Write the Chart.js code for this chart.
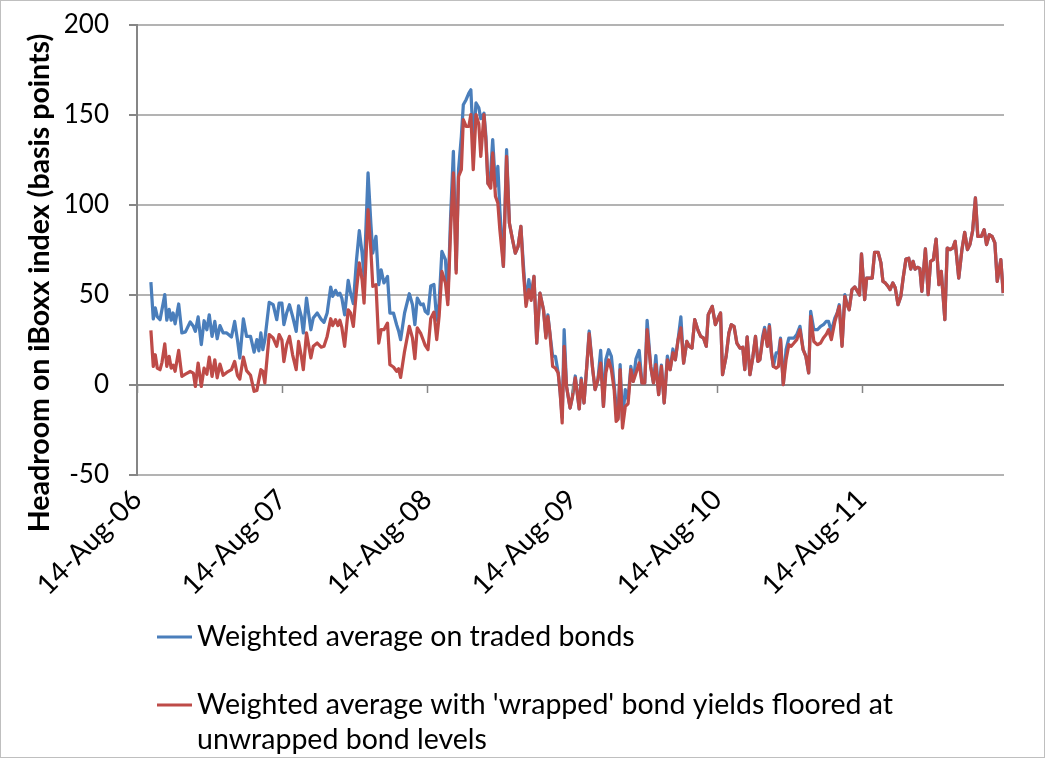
<!DOCTYPE html>
<html>
<head>
<meta charset="utf-8">
<script src="https://cdn.jsdelivr.net/npm/chart.js@4/dist/chart.umd.min.js"></script>
<style>
  html, body { margin: 0; padding: 0; background: #ffffff; }
  canvas { display: block; }
</style>
</head>
<body>
<canvas id="chart" width="1046" height="760"></canvas>
<script>
// Weekly observations, x = days since 14 Aug 2006
const weekDays = [
  35, 41, 46, 51, 58, 63, 70, 75, 81, 86, 91, 96, 105, 113, 122, 134, 142, 147, 154, 162,
  169, 176, 182, 189, 196, 202, 209, 217, 226, 238, 246, 253, 259, 268, 276, 286, 295, 302, 307, 312,
  317, 322, 333, 343, 352, 358, 365, 370, 377, 384, 392, 401, 407, 414, 419, 427, 438, 444, 454, 464,
  471, 479, 488, 493, 500, 506, 511, 516, 523, 532, 538, 545, 553, 560, 567, 572, 582, 589, 594, 602,
  609, 615, 622, 631, 637, 646, 654, 659, 664, 674, 686, 694, 700, 706, 715, 721, 726, 733, 740, 748,
  755, 761, 768, 777, 783, 790, 797, 804, 810, 817, 822, 829, 836, 841, 847, 854, 861, 866, 874, 879,
  884, 891, 896, 903, 909, 914, 923, 931, 938, 946, 953, 960, 967, 973, 980, 987, 993, 1000, 1007, 1015,
  1024, 1030, 1035, 1040, 1047, 1054, 1061, 1066, 1071, 1076, 1082, 1091, 1097, 1104, 1109, 1114, 1119, 1126, 1133, 1139,
  1148, 1154, 1161, 1168, 1175, 1181, 1188, 1195, 1202, 1207, 1212, 1217, 1223, 1230, 1237, 1244, 1250, 1257, 1265, 1272,
  1279, 1285, 1294, 1301, 1307, 1314, 1321, 1328, 1336, 1343, 1350, 1356, 1363, 1370, 1377, 1385, 1391, 1398, 1405, 1413,
  1420, 1427, 1434, 1439, 1449, 1457, 1464, 1470, 1475, 1484, 1491, 1497, 1504, 1511, 1519, 1526, 1531, 1537, 1544, 1551,
  1558, 1564, 1569, 1576, 1581, 1588, 1593, 1598, 1603, 1610, 1616, 1621, 1628, 1635, 1642, 1648, 1655, 1662, 1670, 1678,
  1685, 1692, 1697, 1705, 1714, 1722, 1729, 1736, 1742, 1749, 1758, 1764, 1769, 1776, 1783, 1788, 1794, 1801, 1808, 1815,
  1820, 1825, 1833, 1838, 1845, 1852, 1858, 1867, 1874, 1879, 1885, 1892, 1897, 1904, 1910, 1917, 1924, 1930, 1937, 1944,
  1949, 1955, 1960, 1966, 1972, 1977, 1986, 1993, 1999, 2006, 2013, 2020, 2026, 2035, 2041, 2048, 2055, 2061, 2070, 2078,
  2085, 2092, 2098, 2105, 2112, 2118, 2127, 2134, 2140, 2147, 2154, 2161, 2167, 2176, 2182
];

// Headroom (bp), weighted average on traded bonds
const tradedBonds = [
  57.2, 36.7, 42.8, 38, 36.3, 42, 50.2, 36, 42, 36, 40, 34, 45, 28.9, 29.5, 35, 32.6, 29.8, 37.8, 22.4,
  35.7, 30.7, 39, 27, 35.3, 25.7, 33, 28.9, 28.9, 26.7, 35.3, 25.2, 15, 36.7, 27, 27, 18.3, 25.2, 19, 28.9,
  19.6, 25, 45.9, 44.6, 36.3, 45.5, 45.5, 33.5, 40, 44.6, 38.1, 29.8, 44, 38, 28.9, 48.3, 30.7, 37.2, 40, 36.5,
  34.8, 40, 54.4, 49.2, 52.6, 50, 51, 48.3, 39, 58.1, 51.1, 45.2, 69.6, 85.7, 73.3, 60.3, 117.8, 90, 73.3, 82.6,
  55.7, 64, 56.7, 60.3, 40, 40, 33.5, 30, 25.2, 40, 50.7, 44.6, 33.5, 48.3, 44.6, 45, 41, 39.6, 55, 55.8,
  36, 45.5, 74.2, 69.6, 47.4, 93.7, 129.8, 64, 119.6, 138, 155.7, 158.5, 162.2, 164, 135, 156.7, 154, 148, 151, 138,
  112, 118, 136.3, 110.3, 121.4, 97.4, 65.9, 130.7, 90, 80.7, 73.3, 77, 88.1, 67.8, 45.5, 58.5, 49.2, 60.3, 23.3, 51.1,
  41.8, 27, 39, 28.9, 16, 15.9, 6.7, -4.4, -18, 30.7, -0.8, -12.8, -6.3, 5, -4.4, -13.3, 3.8, -10, 10.3, 30,
  8.5, -2.6, 2.9, 19.2, -11.9, 14, 19.6, 15.9, 0, -11.9, -18, 11.3, -20, -2.6, -8, 10.3, 2, 14.6, 19.2, 1.1,
  1.1, 35.9, 10.3, 1.1, 16.3, -5.4, 11, -10, 16, 8.5, 20, 14, 25.2, 37.8, 12.2, 24.2, 21.5, 20.5, 36.3, 30.5,
  27, 26.1, 21.5, 39, 43.7, 33.5, 37.2, 40, 5.7, 15.9, 28.9, 33.5, 32.6, 23.3, 20.5, 21, 8.5, 26.7, 5.7, 15,
  27, 13.1, 14, 27, 32, 21.5, 33.5, 18.7, 10.3, 17.8, 17.8, 26, 0.2, 19.6, 26.1, 26.1, 26.1, 28, 32.6, 19.6,
  15.9, 6.7, 40.9, 30.7, 30.7, 32.6, 33.5, 35.3, 35.3, 29.8, 37.2, 40, 44.6, 22, 50.2, 45.5, 41.8, 53, 54.5, 52,
  50, 72.9, 47.4, 59.4, 59.4, 59.4, 73.7, 73.7, 67.8, 57.6, 56.7, 54.8, 53, 56.7, 54, 44.6, 49.2, 59.4, 70, 70.4,
  64.4, 68.7, 64.4, 65.4, 64.8, 52, 75.6, 50.2, 68.7, 69.6, 81.1, 55.7, 63.1, 36.3, 76.1, 75.2, 76.1, 79.8, 59.4, 75.2,
  84.8, 75.2, 78, 85.7, 103.9, 82.6, 82.6, 86.3, 78, 83.5, 82.6, 78.9, 57.6, 69.6, 51.1
];

// Headroom (bp), weighted average with 'wrapped' yields floored at unwrapped levels
const wrappedFloored = [
  30.3, 10.3, 16.8, 9.4, 8.5, 12.6, 22.9, 10.3, 15.9, 9.4, 11, 7.6, 19.2, 4.8, 6, 7.5, 6.6, -0.8, 12.2, -0.8,
  9.4, 6, 15.5, 4.8, 14, 4, 11.6, 5.4, 7, 8.5, 13.1, 5.4, 3.3, 15.5, 8, 5.4, -3.5, -3, 3, 8.5,
  7.6, 1.1, 28, 26.1, 21.5, 28, 25, 13, 22.4, 27, 16.8, 8.5, 24.2, 15.9, 8.5, 28.9, 15, 21.5, 23.3, 21,
  21.5, 27, 36.8, 33, 36.3, 33, 36, 32, 21.5, 41.8, 40, 32.6, 53, 67.8, 58.5, 45.5, 97.4, 75.2, 54.8, 55.7,
  23.3, 30.7, 30.7, 34.4, 11.3, 10, 7.6, 9, 4.2, 18.7, 32.6, 26, 14.6, 31.7, 28.5, 25, 22, 19.6, 37, 40.5,
  25.2, 38.1, 63.1, 56.7, 44.6, 86.3, 117.8, 62.2, 115.9, 119.6, 147.4, 143.7, 143.7, 150.2, 119.6, 150.2, 145, 127, 150.2, 135,
  112, 109.4, 128.9, 104.8, 101.1, 86.3, 65.9, 127, 90, 80.7, 73.3, 77, 88.1, 64, 43.7, 53, 47, 60.3, 23.3, 51.1,
  41.8, 26.1, 38, 28.9, 10.3, 9.4, 6.7, -4.4, -21.1, 21.5, -0.8, -12.8, -6.3, 3.9, -4.4, -13.3, 2.9, -10, 10.3, 28.5,
  8.5, -2.6, 2.9, 12.2, -11.9, 6.7, 14, 8.5, -2.6, -20.2, -19, 8.5, -23.9, -11.9, -10.4, 8.5, 2, 6.7, 12.2, 1.1,
  1.1, 30.7, 10.3, 1.1, 11.3, -5.4, 10.3, -10, 14, 8.5, 17.8, 14, 25.2, 31.7, 12.2, 24.2, 21.5, 20.5, 36.3, 30.5,
  27, 26.1, 21.5, 39, 43.7, 33.5, 37.2, 40, 5.7, 15.9, 28.9, 33.5, 32.6, 23.3, 20.5, 21, 8.5, 26.7, 5.7, 15,
  27, 13.1, 14, 25.2, 30.7, 21.5, 32.6, 17.8, 10.3, 9.4, 10.3, 25.2, 0.2, 14, 22.4, 21.5, 23.3, 25.2, 30.7, 19.6,
  15.9, 6.7, 38.1, 24.2, 22.4, 23.3, 26.1, 28, 30.7, 25.2, 35.3, 39.9, 43.7, 21.5, 49.2, 45, 41.8, 53, 54.5, 52,
  50, 72.9, 47.4, 59.4, 59.4, 59.4, 73.7, 73.7, 67.8, 57.6, 56.7, 54.8, 53, 56.7, 54, 44.6, 49.2, 59.4, 70, 70.4,
  64.4, 68.7, 64.4, 65.4, 64.8, 52, 75.6, 50.2, 68.7, 69.6, 81.1, 55.7, 63.1, 36.3, 76.1, 75.2, 76.1, 79.8, 59.4, 75.2,
  84.8, 75.2, 78, 85.7, 103.9, 82.6, 82.6, 86.3, 78, 83.5, 82.6, 78.9, 57.6, 69.6, 51.1
];

// Category axis: one tick every 14 August
const yearTickDays = [0, 365, 731, 1096, 1461, 1826];
const yearTickLabels = ['14-Aug-06', '14-Aug-07', '14-Aug-08', '14-Aug-09', '14-Aug-10', '14-Aug-11'];
const axisMaxDay = 2184;

const seriesLabels = [
  'Weighted average on traded bonds',
  "Weighted average with 'wrapped' bond yields floored at unwrapped bond levels"
];
const yTitle = 'Headroom on iBoxx index (basis points)';

const FONT = 'Lato, "Open Sans", sans-serif';
const BLUE = '#4a7ebb';
const RED = '#be4b48';
const AXIS_GREY = '#868686';
const GRID_GREY = '#b3b3b3';

const toPoints = vals => weekDays.map((d, i) => ({ x: d, y: vals[i] }));

// Frame, y-axis title, tick marks on the zero line and the stacked legend
const decorations = {
  id: 'decorations',
  beforeDraw(chart) {
    const { ctx } = chart;
    ctx.save();
    ctx.fillStyle = '#ffffff';
    ctx.fillRect(0, 0, chart.width, chart.height);
    ctx.restore();
  },
  afterDatasetsDraw(chart) {
    const { ctx, scales } = chart;
    const x = scales.x, y = scales.y;
    const y0 = y.getPixelForValue(0);
    ctx.save();
    ctx.strokeStyle = AXIS_GREY;
    ctx.lineWidth = 1.5;
    yearTickDays.forEach(d => {
      const px = Math.round(x.getPixelForValue(d)) + 0.5;
      ctx.beginPath();
      ctx.moveTo(px, y0);
      ctx.lineTo(px, y0 + 8);
      ctx.stroke();
    });
    ctx.restore();
  },
  afterDraw(chart) {
    const { ctx } = chart;
    ctx.save();
    // outer frame
    ctx.strokeStyle = '#bfbfbf';
    ctx.lineWidth = 1;
    ctx.strokeRect(0.5, 0.5, chart.width - 2, chart.height - 3);

    // y-axis title
    ctx.save();
    ctx.translate(40, 283);
    ctx.rotate(-Math.PI / 2);
    ctx.font = 'bold 28.5px ' + FONT;
    ctx.fillStyle = '#000000';
    ctx.textAlign = 'center';
    ctx.textBaseline = 'middle';
    ctx.fillText(yTitle, 0, 0);
    ctx.restore();

    // legend
    const legendRows = [637, 705];
    const sampleX0 = 157, sampleX1 = 192, textX = 197, lineGap = 35, maxW = 720;
    ctx.font = '28.5px ' + FONT;
    ctx.textBaseline = 'middle';
    ctx.textAlign = 'left';
    chart.data.datasets.slice().sort((a, b) => a.legendIndex - b.legendIndex).forEach((ds, i) => {
      const yRow = legendRows[i];
      ctx.strokeStyle = ds.borderColor;
      ctx.lineWidth = 3;
      ctx.beginPath();
      ctx.moveTo(sampleX0, yRow);
      ctx.lineTo(sampleX1, yRow);
      ctx.stroke();
      // wrap the label to the legend width
      const words = ds.label.split(' ');
      const lines = [];
      let cur = '';
      words.forEach(w => {
        const t = cur ? cur + ' ' + w : w;
        if (ctx.measureText(t).width > maxW && cur) { lines.push(cur); cur = w; }
        else cur = t;
      });
      if (cur) lines.push(cur);
      ctx.fillStyle = '#000000';
      lines.forEach((ln, k) => ctx.fillText(ln, textX, yRow + k * lineGap));
    });
    ctx.restore();
  }
};

new Chart(document.getElementById('chart'), {
  type: 'line',
  data: {
    datasets: [
      {
        label: seriesLabels[0],
        legendIndex: 0,
        data: toPoints(tradedBonds),
        borderColor: BLUE,
        backgroundColor: BLUE,
        borderWidth: 3.25,
        pointRadius: 0,
        tension: 0,
        borderJoinStyle: 'round',
        order: 1
      },
      {
        label: seriesLabels[1],
        legendIndex: 1,
        data: toPoints(wrappedFloored),
        borderColor: RED,
        backgroundColor: RED,
        borderWidth: 3.25,
        pointRadius: 0,
        tension: 0,
        borderJoinStyle: 'round',
        order: 0
      }
    ]
  },
  plugins: [decorations],
  options: {
    responsive: false,
    animation: false,
    devicePixelRatio: 1,
    layout: { padding: { top: 25, right: 42, left: 0, bottom: 0 } },
    plugins: {
      legend: { display: false },
      tooltip: { enabled: false },
      title: { display: false }
    },
    scales: {
      x: {
        type: 'linear',
        min: 0,
        max: axisMaxDay,
        afterFit(scale) { scale.height = 285; },
        afterBuildTicks(scale) { scale.ticks = yearTickDays.map(v => ({ value: v })); },
        grid: { display: false, drawTicks: false },
        border: { display: false },
        ticks: {
          autoSkip: false,
          maxRotation: 45,
          minRotation: 45,
          padding: 8,
          color: '#000000',
          font: { family: FONT, size: 28 },
          callback: (value, index) => yearTickLabels[index]
        }
      },
      y: {
        min: -50,
        max: 200,
        afterFit(scale) {
          scale.width = 137;
          // plot edges are set by the layout padding alone
          scale.paddingTop = 0;
          scale.paddingBottom = 0;
        },
        grid: {
          color: ctx => (ctx.tick && ctx.tick.value === 0 ? AXIS_GREY : GRID_GREY),
          lineWidth: 2,
          tickLength: 8,
          tickColor: AXIS_GREY
        },
        border: { display: true, color: AXIS_GREY, width: 2 },
        ticks: {
          stepSize: 50,
          padding: 20,
          color: '#000000',
          font: { family: FONT, size: 26 }
        }
      }
    }
  }
});
</script>
</body>
</html>
